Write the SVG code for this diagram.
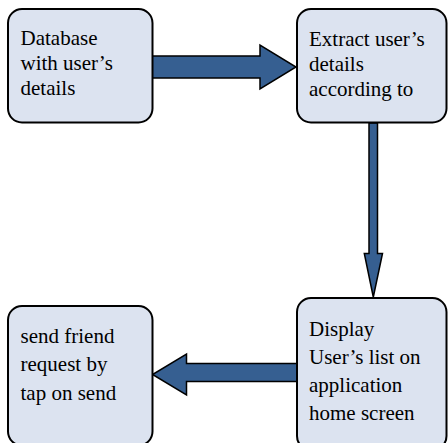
<svg xmlns="http://www.w3.org/2000/svg" width="448" height="443" viewBox="0 0 448 443">
  <style>
    .box { fill: #dce3f0; stroke: #000; stroke-width: 2; }
    .arrow { fill: #365f91; stroke: #000; stroke-width: 1.5; stroke-linejoin: miter; }
    .label { font-family: "Liberation Serif", "Times New Roman", serif; font-size: 21px; fill: #000; }
  </style>
  <rect width="448" height="443" fill="#fff"/>

  <!-- flow connectors (block arrows) -->
  <g id="connectors">
    <!-- database -> extract -->
    <path class="arrow" d="M152,56 H260 V45 L296,67 L260,89 V78 H152 Z"/>
    <!-- extract -> display -->
    <path class="arrow" d="M369,123 H377.5 V253.5 H382.5 L373.3,297 L364.3,253.5 H369 Z"/>
    <!-- display -> send friend request -->
    <path class="arrow" d="M297,363.5 H186.5 V354 L152.5,374.5 L186.5,395 V381.5 H297 Z"/>
  </g>

  <g id="node-database">
    <rect class="box" x="8" y="9" width="144.5" height="113.5" rx="14" ry="14"/>
    <text class="label" x="20.5" y="45">Database</text>
    <text class="label" x="20.5" y="70">with user’s</text>
    <text class="label" x="20.5" y="95">details</text>
  </g>

  <g id="node-extract">
    <rect class="box" x="297" y="9" width="149.5" height="113.5" rx="14" ry="14"/>
    <text class="label" x="309" y="45.5">Extract user’s</text>
    <text class="label" x="309" y="70.5">details</text>
    <text class="label" x="309" y="95.5">according to</text>
  </g>

  <g id="node-display">
    <rect class="box" x="297" y="298" width="149.5" height="152" rx="14" ry="14"/>
    <text class="label" x="309" y="336">Display</text>
    <text class="label" x="309" y="364">User’s list on</text>
    <text class="label" x="309" y="392">application</text>
    <text class="label" x="309" y="420">home screen</text>
  </g>

  <g id="node-send-request">
    <rect class="box" x="8" y="306" width="144.5" height="139.5" rx="14" ry="14"/>
    <text class="label" x="20.5" y="343">send friend</text>
    <text class="label" x="20.5" y="371">request by</text>
    <text class="label" x="20.5" y="399.5">tap on send</text>
  </g>
</svg>
